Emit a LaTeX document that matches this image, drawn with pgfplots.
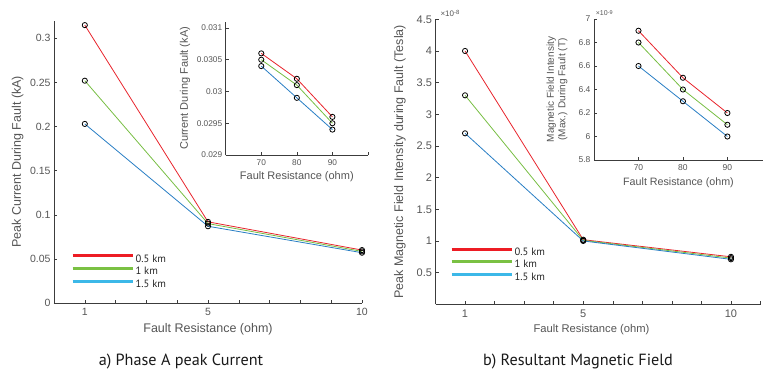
\documentclass[border=0pt]{standalone}
\usepackage{fontspec}
\setmainfont{Liberation Sans}
\newfontfamily\capfont{PT Sans}
\usepackage{pgfplots}
\pgfplotsset{compat=1.18}
\definecolor{cred}{RGB}{232,36,44}
\definecolor{cgreen}{RGB}{119,190,67}
\definecolor{cblue}{RGB}{40,126,196}
\definecolor{lred}{RGB}{237,28,36}
\definecolor{lgreen}{RGB}{122,193,67}
\definecolor{lblue}{RGB}{60,184,232}
\definecolor{axgray}{RGB}{60,60,60}
\definecolor{txtgray}{RGB}{85,85,85}
\pgfplotsset{
  mystyle/.style={
    scale only axis, axis lines*=left, tick pos=left,
    tick align=inside, major tick length=3pt,
    scaled ticks=false,
    tick style={color=axgray, line width=0.5pt},
    axis line style={axgray, line width=0.6pt},
    ticklabel style={color=txtgray},
    label style={color=txtgray},
    /pgf/number format/assume math mode=true,
    clip=false,
    every axis plot/.append style={line width=0.8pt, mark=o, mark size=2.6pt, mark options={black, line width=0.8pt, solid}},
  },
  mylegend/.style={
    legend style={draw=none, fill=none, anchor=north west, font=\capfont\fontsize{10.6}{11}\selectfont, text=black!85,
      row sep=0.6pt, inner sep=0pt, nodes={inner sep=1.5pt}},
    legend cell align=left,
    legend image code/.code={\draw[##1, line width=3pt] (0pt,3pt) -- (60pt,3pt);},
  }
}
\begin{document}
\begin{tikzpicture}
\useasboundingbox (0pt,0pt) rectangle (764pt,376pt);
% ---------------- left main
\begin{axis}[mystyle, mylegend, at={(54pt,73pt)}, anchor=south west,
  width=308pt, height=282.3pt, xmin=0, xmax=10, ymin=0, ymax=0.32,
  ticklabel style={font=\fontsize{10.5}{11}\selectfont},
  xticklabel style={yshift=-2pt},
  xtick={1,...,10}, xticklabels={1,,,,5,,,,,10},
  ytick={0,0.05,0.1,0.15,0.2,0.25,0.3}, yticklabels={0,0.05,0.1,0.15,0.2,0.25,0.3},
  xlabel={Fault Resistance (ohm)}, ylabel={Peak Current During Fault (kA)},
  label style={font=\fontsize{12.5}{14}\selectfont},
  xlabel style={at={([yshift=-26pt]axis description cs:0.5,0)}, anchor=center},
  ylabel style={at={([xshift=-36.3pt]axis description cs:0,0.5)}, anchor=center},
  legend style={at={(axis description cs:0.055,0.178)}},
]
\addlegendimage{lred}\addlegendentry{0.5 km}
\addlegendimage{lgreen}\addlegendentry{1 km}
\addlegendimage{lblue}\addlegendentry{1.5 km}
\addplot[cred] coordinates {(1,0.315) (5,0.092) (10,0.060)};
\addplot[cgreen] coordinates {(1,0.252) (5,0.090) (10,0.0585)};
\addplot[cblue] coordinates {(1,0.203) (5,0.087) (10,0.057)};
\end{axis}
% ---------------- left inset
\begin{axis}[mystyle, at={(225.7pt,221pt)}, anchor=south west,
  width=142.3pt, height=133.4pt, xmin=60, xmax=100, ymin=0.029, ymax=0.0311,
  ticklabel style={font=\fontsize{8.3}{9}\selectfont},
  xticklabel style={yshift=-1.5pt},
  xtick={70,80,90,100}, xticklabels={70,80,90,},
  ytick={0.029,0.0295,0.03,0.0305,0.031}, yticklabels={0.029,0.0295,0.03,0.0305,0.031},
  xlabel={Fault Resistance (ohm)}, ylabel={Current During Fault (kA)},
  label style={font=\fontsize{11}{12.5}\selectfont},
  xlabel style={at={([yshift=-21.7pt]axis description cs:0.5,0)}, anchor=center},
  ylabel style={at={([xshift=-40.7pt]axis description cs:0,0.5)}, anchor=center},
]
\addplot[cred] coordinates {(70,0.0306) (80,0.0302) (90,0.0296)};
\addplot[cgreen] coordinates {(70,0.0305) (80,0.0301) (90,0.0295)};
\addplot[cblue] coordinates {(70,0.0304) (80,0.0299) (90,0.0294)};
\end{axis}
% ---------------- right main
\begin{axis}[mystyle, mylegend, at={(435.5pt,71.7pt)}, anchor=south west,
  width=325pt, height=285pt, xmin=0, xmax=11, ymin=0, ymax=4.5,
  ticklabel style={font=\fontsize{11}{12}\selectfont},
  xticklabel style={yshift=-2pt},
  xtick={1,...,11}, xticklabels={1,,,,5,,,,,10,},
  ytick={0.5,1,1.5,2,2.5,3,3.5,4,4.5}, yticklabels={0.5,1,1.5,2,2.5,3,3.5,4,4.5},
  xlabel={Fault Resistance (ohm)}, ylabel={Peak Magnetic Field Intensity during Fault (Tesla)},
  xlabel style={font=\fontsize{11.2}{13}\selectfont, at={([yshift=-25.7pt]axis description cs:0.48,0)}, anchor=center},
  ylabel style={font=\fontsize{12.5}{14}\selectfont, at={([xshift=-35.5pt]axis description cs:0,0.5)}, anchor=center},
  legend style={at={(axis description cs:0.0445,0.2046)}},
]
\addlegendimage{lred}\addlegendentry{0.5 km}
\addlegendimage{lgreen}\addlegendentry{1 km}
\addlegendimage{lblue}\addlegendentry{1.5 km}
\addplot[cred] coordinates {(1,4.0) (5,1.02) (10,0.75)};
\addplot[cgreen] coordinates {(1,3.3) (5,1.01) (10,0.73)};
\addplot[cblue] coordinates {(1,2.7) (5,1.0) (10,0.71)};
\node[anchor=south west, inner sep=0pt, font=\fontsize{8}{9}\selectfont, text=txtgray] at (axis description cs:0.015,1.01) {×10\raisebox{0.5ex}{\fontsize{6}{7}\selectfont -8}};
\end{axis}
% ---------------- right inset
\begin{axis}[mystyle, at={(594pt,216pt)}, anchor=south west,
  width=169pt, height=141pt, xmin=60, xmax=98, ymin=5.8, ymax=7,
  ticklabel style={font=\fontsize{8.5}{9}\selectfont},
  xticklabel style={yshift=-1.5pt},
  xtick={70,80,90}, xticklabels={70,80,90},
  ytick={5.8,6,6.2,6.4,6.6,6.8,7}, yticklabels={5.8,6,6.2,6.4,6.6,6.8,7},
  xlabel={Fault Resistance (ohm)}, ylabel={Magnetic Field Intensity\\(Max.) During Fault (T)},
  xlabel style={font=\fontsize{10.7}{12}\selectfont, at={([yshift=-22.7pt]axis description cs:0.5,0)}, anchor=center},
  ylabel style={font=\fontsize{10}{11.5}\selectfont, at={([xshift=-37pt]axis description cs:0,0.5)}, anchor=center, align=center},
]
\addplot[cred] coordinates {(70,6.9) (80,6.5) (90,6.2)};
\addplot[cgreen] coordinates {(70,6.8) (80,6.4) (90,6.1)};
\addplot[cblue] coordinates {(70,6.6) (80,6.3) (90,6.0)};
\node[anchor=south west, inner sep=0pt, font=\fontsize{7}{8}\selectfont, text=txtgray] at (axis description cs:0.01,1.02) {×10\raisebox{0.5ex}{\fontsize{5.5}{6}\selectfont -9}};
\end{axis}
% ---------------- captions
\node[font=\capfont\fontsize{16.2}{18}\selectfont, text=black!90] at (181pt,14.3pt) {a) Phase A peak Current};
\node[font=\capfont\fontsize{16.2}{18}\selectfont, text=black!90] at (578pt,14.8pt) {b) Resultant Magnetic Field};
\end{tikzpicture}
\end{document}
